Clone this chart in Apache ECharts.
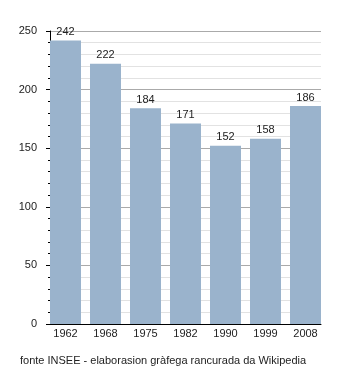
<!DOCTYPE html>
<html>
<head>
<meta charset="utf-8">
<script src="https://cdn.jsdelivr.net/npm/echarts@6/dist/echarts.min.js"></script>
<style>
  html, body { margin: 0; padding: 0; background: #fff; }
  #chart { width: 350px; height: 373px; }
</style>
</head>
<body>
<div id="chart"></div>
<script>
// Population by census year
const years = ['1962', '1968', '1975', '1982', '1990', '1999', '2008'];
const population = [242, 222, 184, 171, 152, 158, 186];
const yTicks = [0, 50, 100, 150, 200, 250];
const caption = 'fonte INSEE - elaborasion gràfega rancurada da Wikipedia';

const font = 'Liberation Sans, Arial, sans-serif';
const chart = echarts.init(document.getElementById('chart'), null, { renderer: 'canvas' });

chart.setOption({
  animation: false,
  backgroundColor: '#ffffff',
  textStyle: { fontFamily: font },
  title: {
    text: caption,
    left: 20, top: 355, padding: 0,
    textStyle: { fontFamily: font, fontSize: 11, fontWeight: 'normal', color: '#222' }
  },
  grid: [
    // frame grid: value axis, grid lines and base line
    { left: 50, top: 31, width: 271, bottom: 49 },
    // bar grid: 40px per category so bars sit flush with the frame
    { left: 45.5, top: 31, width: 280, bottom: 49 }
  ],
  xAxis: [
    {
      gridIndex: 0, type: 'value', min: 0, max: 1,
      axisLine: { show: true, onZero: false, lineStyle: { color: '#000', width: 1 } },
      axisTick: { show: false }, axisLabel: { show: false }, splitLine: { show: false }
    },
    {
      gridIndex: 1, type: 'category', data: years,
      axisLine: { show: false }, axisTick: { show: false },
      axisLabel: { margin: 4, fontSize: 11, color: '#222', fontFamily: font },
      splitLine: { show: false }
    }
  ],
  yAxis: [
    {
      gridIndex: 0, type: 'value',
      min: yTicks[0], max: yTicks[yTicks.length - 1], interval: 50,
      axisLine: { show: true, lineStyle: { color: '#000', width: 1 } },
      axisTick: { show: true, length: 4, lineStyle: { color: '#000' } },
      minorTick: { show: true, splitNumber: 5, length: 2, lineStyle: { color: '#000' } },
      axisLabel: { margin: 13, fontSize: 11, color: '#222', fontFamily: font },
      splitLine: { show: true, lineStyle: { color: '#aaaaaa', width: 1 } },
      minorSplitLine: { show: true, lineStyle: { color: '#e2e2e2', width: 1 } }
    },
    {
      gridIndex: 1, type: 'value',
      min: yTicks[0], max: yTicks[yTicks.length - 1],
      show: false, splitLine: { show: false }
    }
  ],
  series: [{
    type: 'bar',
    xAxisIndex: 1, yAxisIndex: 1,
    data: population,
    barWidth: 31,
    itemStyle: { color: '#9ab3cc' },
    label: {
      show: true, position: 'top', distance: 3,
      fontSize: 11, color: '#222', fontFamily: font
    },
    z: 3
  }]
});
</script>
</body>
</html>
